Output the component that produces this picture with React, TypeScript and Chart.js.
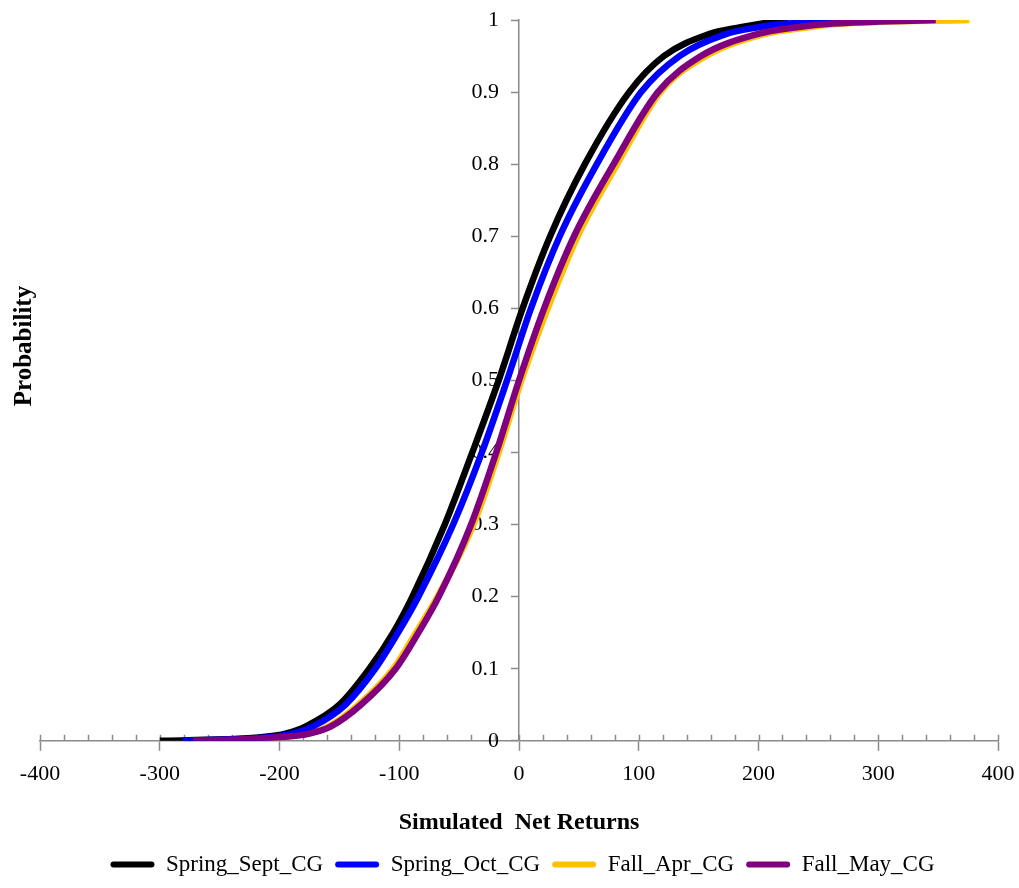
import React, { useEffect, useRef } from 'react';
import { Chart, registerables } from 'chart.js';

Chart.register(...registerables);

// Cumulative probability levels (y) and the simulated net returns (x) at which each series reaches them
const probabilities = [0, 0.002, 0.005, 0.01, 0.02, 0.05, 0.1, 0.15, 0.2, 0.3, 0.4, 0.5, 0.6, 0.7, 0.8, 0.9, 0.95, 0.98, 0.99, 0.995, 1];
const springSeptCG = [-300, -245, -215, -195, -178, -150, -125, -105, -89, -62, -39, -17, 3, 26, 55, 92, 121, 158, 185, 202, 225];
const springOctCG = [-281, -240, -208, -189, -172, -145, -120, -101, -84, -55, -31, -10, 10, 34, 65, 102, 134, 172, 200, 224, 275];
const fallAprCG = [-272, -232, -202, -177, -159, -134, -105, -86, -68, -38, -17, 2, 24, 49, 82, 118, 156, 204, 242, 270, 376];
const fallMayCG = [-272, -230, -200, -175, -157, -132, -103, -84, -67, -40, -19, 0, 21, 46, 79, 116, 152, 198, 232, 262, 348];

const seriesNames = ['Spring_Sept_CG', 'Spring_Oct_CG', 'Fall_Apr_CG', 'Fall_May_CG'];
const seriesValues = [springSeptCG, springOctCG, fallAprCG, fallMayCG];
const seriesColors = ['#000000', '#0000FF', '#FFC000', '#800080'];
const seriesOrder = [2, 1, 3, 0];

const xTicks = [-400, -300, -200, -100, 0, 100, 200, 300, 400];
const yTicks = [0, 0.1, 0.2, 0.3, 0.4, 0.5, 0.6, 0.7, 0.8, 0.9, 1];

const FONT = '"Liberation Serif", "Times New Roman", serif';
const AXIS = '#8a8a8a';

const axisDecor = {
  id: 'axisDecor',
  afterLayout(chart: any) {
    // the legend row sits slightly right of the canvas centre in the reference
    if (chart.legend) {
      chart.legend.left += 20;
      chart.legend.right += 20;
    }
  },
  beforeDraw(chart: any) {
    // y tick labels: to the left of the tick marks of the axis crossing at x = 0
    for (const it of chart.scales.y.getLabelItems(chart.chartArea)) {
      if (!it.__shifted && it.options && it.options.translation) {
        it.options.translation[0] -= 20;
        it.__shifted = true;
      }
    }
    // x tick labels: a little further below the axis
    for (const it of chart.scales.x.getLabelItems(chart.chartArea)) {
      if (!it.__shifted && it.options && it.options.translation) {
        it.options.translation[1] += 10;
        it.__shifted = true;
      }
    }
  },
  beforeDatasetsDraw(chart: any) {
    const xs = chart.scales.x;
    const ys = chart.scales.y;
    const y0 = ys.getPixelForValue(0);
    const ctx = chart.ctx;
    ctx.save();
    ctx.strokeStyle = AXIS;
    ctx.lineWidth = 1.5;
    for (let v = xTicks[0]; v <= xTicks[xTicks.length - 1]; v += 20) {
      const px = Math.round(xs.getPixelForValue(v)) + 0.5;
      ctx.beginPath();
      ctx.moveTo(px, y0 - 6);
      ctx.lineTo(px, y0);
      ctx.stroke();
    }
    ctx.restore();
  },
};

export default function App() {
  const ref = useRef<HTMLCanvasElement>(null);
  useEffect(() => {
    document.body.style.margin = '0';
    document.body.style.overflow = 'hidden';
    const datasets = seriesNames.map((name, i) => ({
      label: name,
      data: probabilities.map((p, j) => ({ x: seriesValues[i][j], y: p })),
      borderColor: seriesColors[i],
      backgroundColor: seriesColors[i],
      borderWidth: 6.5,
      pointRadius: 0,
      showLine: true,
      fill: false,
      cubicInterpolationMode: 'monotone' as const,
      order: seriesOrder[i],
    }));
    const chart = new Chart(ref.current!, {
      type: 'scatter',
      data: { datasets },
      plugins: [axisDecor],
      options: {
        animation: false,
        responsive: false,
        layout: { padding: { left: 7, right: 21, top: 20, bottom: 2 } },
        plugins: {
          tooltip: { enabled: false },
          legend: {
            position: 'bottom',
            labels: {
              boxWidth: 44,
              boxHeight: 6,
              padding: 12,
              color: '#000',
              font: { family: FONT, size: 23 },
              generateLabels: (c: any) =>
                c.data.datasets.map((d: any, i: number) => ({
                  text: d.label,
                  fillStyle: d.borderColor,
                  strokeStyle: d.borderColor,
                  lineWidth: 0,
                  borderRadius: 3,
                  hidden: false,
                  datasetIndex: i,
                  fontColor: '#000',
                })),
            },
          },
        },
        scales: {
          x: {
            type: 'linear',
            position: 'bottom',
            min: xTicks[0],
            max: xTicks[xTicks.length - 1],
            afterBuildTicks: (s: any) => { s.ticks = xTicks.map((v) => ({ value: v })); },
            grid: { drawOnChartArea: false, drawTicks: true, tickLength: 10, tickColor: AXIS, tickWidth: 1.5 },
            border: { display: true, color: AXIS, width: 1.5 },
            ticks: { color: '#000', padding: 0, font: { family: FONT, size: 22 }, maxRotation: 0 },
            title: {
              display: true,
              text: 'Simulated  Net Returns',
              color: '#000',
              font: { family: FONT, size: 24, weight: 'bold' },
              padding: { top: 31, bottom: 4 },
            },
          },
          y: {
            type: 'linear',
            position: { x: 0 } as any,
            min: 0,
            max: 1,
            afterBuildTicks: (s: any) => { s.ticks = yTicks.map((v) => ({ value: v })); },
            grid: { drawOnChartArea: false, drawTicks: true, tickLength: 7, tickColor: AXIS, tickWidth: 1.5 },
            border: { display: true, color: AXIS, width: 1.5 },
            ticks: {
              color: '#000',
              padding: 0,
              font: { family: FONT, size: 22 },
              callback: (v: any) => String(Math.round(Number(v) * 10) / 10),
            },
          },
          yTitle: {
            type: 'linear',
            position: 'left',
            min: 0,
            max: 1,
            grid: { display: false, drawTicks: false, tickLength: 0 },
            border: { display: false },
            ticks: { display: false },
            title: {
              display: true,
              text: '           Probability',
              color: '#000',
              font: { family: FONT, size: 25, weight: 'bold' },
              padding: { top: 3, bottom: 0 },
            },
          },
        },
      },
    });
    return () => chart.destroy();
  }, []);
  return (
    <div style={{ width: 1019, height: 888 }}>
      <canvas ref={ref} width={1019} height={888} style={{ display: 'block' }} />
    </div>
  );
}
